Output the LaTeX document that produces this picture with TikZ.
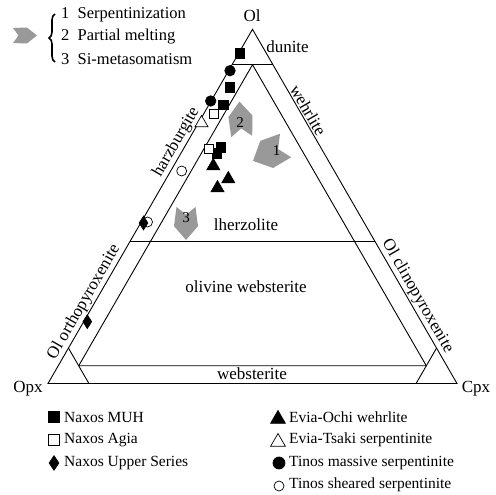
\documentclass[tikz,border=0pt]{standalone}
\usepackage{fontspec}
\setmainfont{Liberation Serif}
\usepackage{amsmath}
\usetikzlibrary{shapes.geometric,calc,decorations.pathreplacing}
\tikzset{
  bnd/.style={line width=0.9pt, black},
  lbl/.style={font=\fontsize{17}{20}\selectfont, inner sep=1.5pt},
  leg/.style={font=\fontsize{15.5}{18}\selectfont, anchor=west, inner sep=0pt},
  toplbl/.style={font=\fontsize{16.5}{19}\selectfont, anchor=west, inner sep=0pt},
  numlbl/.style={font=\fontsize{15}{18}\selectfont, inner sep=0pt},
  mk/.style={draw=black, line width=0.7pt, inner sep=0pt},
  fsq/.style={mk, rectangle, fill=black, minimum size=9.5pt},
  osq/.style={mk, rectangle, fill=white, minimum size=9.5pt},
  fdot/.style={mk, circle, fill=black, minimum size=10.5pt},
  odot/.style={mk, circle, fill=white, minimum size=10pt},
  ftri/.style={mk, regular polygon, regular polygon sides=3, fill=black, minimum size=15pt},
  otri/.style={mk, regular polygon, regular polygon sides=3, fill=white, minimum size=15pt},
  fdia/.style={mk, diamond, fill=black, minimum width=9pt, minimum height=14pt},
  curly/.style={decorate, decoration={brace, amplitude=6pt}, line width=1.6pt},
  pics/chev/.style n args={3}{code={
    \fill[gray!80] (-#1/2,#3) -- (0.08*#1,#2) -- (#1/2,0) -- (0.08*#1,-#2)
      -- (-#1/2,-#3) -- (-0.27*#1,0) -- cycle;
  }}
}

\begin{document}
\begin{tikzpicture}[x=1pt, y=-1pt]
\useasboundingbox (0,0) rectangle (496,495);

% Corners
\coordinate (apexol)  at (252.5,29.3);
\coordinate (cornopx) at (48,383.5);
\coordinate (corncpx) at (457,383.5);

% Field boundaries
\draw[bnd] (apexol) -- (cornopx) -- (corncpx) -- cycle;
\draw[bnd] (barycentric cs:apexol=0.9,cornopx=0.1)
        -- (barycentric cs:apexol=0.9,corncpx=0.1);
\draw[bnd] (barycentric cs:apexol=0.4,cornopx=0.6)
        -- (barycentric cs:apexol=0.4,corncpx=0.6);
\draw[bnd] (barycentric cs:apexol=0.9,cornopx=0.05,corncpx=0.05)
        -- (barycentric cs:apexol=0.05,cornopx=0.9,corncpx=0.05)
        -- (barycentric cs:apexol=0.05,cornopx=0.05,corncpx=0.9)
        -- cycle;
\draw[bnd] (barycentric cs:apexol=0.1,cornopx=0.9)
        -- (barycentric cs:cornopx=0.9,corncpx=0.1);
\draw[bnd] (barycentric cs:apexol=0.1,corncpx=0.9)
        -- (barycentric cs:cornopx=0.1,corncpx=0.9);

% Corner labels
\node[lbl] (lol)  at (252,16)  {Ol};
\node[lbl] (lopx) at (28,389)  {Opx};
\node[lbl] (lcpx) at (476,389) {Cpx};

% Field names
\node[lbl] (ldun) at (287.5,47)  {dunite};
\node[lbl] (llhz) at (246,225)   {lherzolite};
\node[lbl] (lowb) at (246,287)   {olivine websterite};
\node[lbl] (lweb) at (252,374)   {websterite};
\path (cornopx) -- node[lbl, sloped, above, pos=0.668] (lhzb) {harzburgite}
      node[lbl, sloped, above, pos=0.216] (lopxt) {Ol orthopyroxenite} (apexol);
\path (apexol) -- node[lbl, sloped, above, pos=0.24] (lweh) {wehrlite}
      node[lbl, sloped, above, pos=0.767] (lcpxt) {Ol clinopyroxenite} (corncpx);

% Process arrows
\pic[rotate=205.3] at (269.3,153.2) {chev={36}{15}{13}};
\pic[rotate=93.7]  at (240.6,119)   {chev={35}{12}{10.5}};
\pic[rotate=270]   at (186,223.5)   {chev={33}{12}{9.5}};
\node[numlbl] (n1) at (276.7,150.7) {1};
\node[numlbl] (n2) at (240,123)     {2};
\node[numlbl] (n3) at (186,218)     {3};

% Samples
\node[fsq] (mu1) at (240,53.3) {};
\node[fsq] (mu2) at (230,87.3) {};
\node[fsq] (mu3) at (223.3,105) {};
\node[fsq] (mu4) at (221,147.3) {};
\node[fsq] (mu5) at (217,153.5) {};
\node[osq] (ag1) at (214,114) {};
\node[osq] (ag2) at (209,149) {};
\node[fdot] (tm1) at (230,70.7) {};
\node[fdot] (tm2) at (210.7,101) {};
\node[otri] (ts1) at (201.5,123) {};
\node[ftri] (oc1) at (213.3,166) {};
\node[ftri] (oc2) at (228.3,179) {};
\node[ftri] (oc3) at (217.5,188) {};
\node[odot] (sh1) at (181.7,171) {};
\node[odot] (sh2) at (147.5,222) {};
\node[fdia] (up1) at (143.5,223) {};
\node[fdia] (up2) at (87.3,321.7) {};

% Process legend
\pic at (25,35.5) {chev={24}{8}{7.5}};
\coordinate (brcbot) at (55,62);
\coordinate (brctop) at (55,14);
\draw[curly] (brcbot) -- (brctop);
\node[toplbl] (pr1) at (61,15) {1\enspace Serpentinization};
\node[toplbl] (pr2) at (61,37) {2\enspace Partial melting};
\node[toplbl] (pr3) at (61,59) {3\enspace Si-metasomatism};

% Sample legend
\node[fsq, minimum size=11pt] (kmu) at (54,417) {};
\node[leg] (tmu) at (64,417) {Naxos MUH};
\node[osq, minimum size=11pt] (kag) at (54,440) {};
\node[leg] (tag) at (64,440) {Naxos Agia};
\node[fdia, minimum width=10pt, minimum height=15pt] (kup) at (54,463) {};
\node[leg] (tup) at (64,463) {Naxos Upper Series};
\node[ftri, minimum size=17pt] (koc) at (278,419) {};
\node[leg] (toc) at (289,417) {Evia-Ochi wehrlite};
\node[otri, minimum size=17pt] (kts) at (278,442) {};
\node[leg] (tts) at (289,440) {Evia-Tsaki serpentinite};
\node[fdot, minimum size=12pt] (ktm) at (279,463) {};
\node[leg] (ttm) at (289,463) {Tinos massive serpentinite};
\node[odot, minimum size=10pt] (ksh) at (279,486) {};
\node[leg] (tsh) at (289,485) {Tinos sheared serpentinite};

\end{tikzpicture}
\end{document}
